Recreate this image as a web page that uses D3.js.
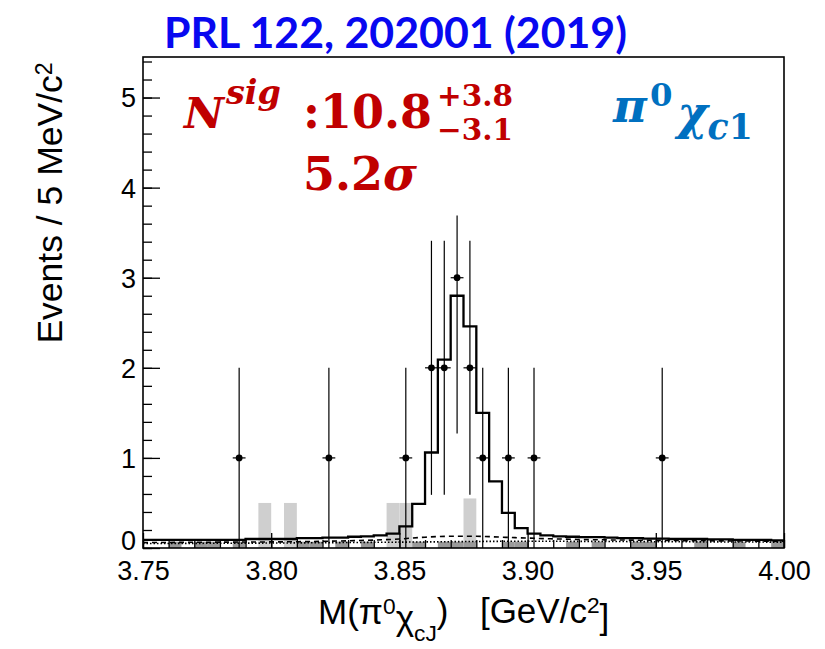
<!DOCTYPE html>
<html><head><meta charset="utf-8">
<script src="https://cdn.jsdelivr.net/npm/d3@7"></script>
<style>body{margin:0;background:#fff;} svg{display:block;}</style>
</head><body>
<svg id="chart" width="825" height="649"></svg>
<script>
// ---------------- DATA ----------------
const xDomain = [3.75, 4.00];
const yDomain = [0, 5.45];
const binWidth = 0.005;
const xTicks = [3.75, 3.80, 3.85, 3.90, 3.95, 4.00];
const xTickLabels = ["3.75", "3.80", "3.85", "3.90", "3.95", "4.00"];
const yTicks = [0, 1, 2, 3, 4, 5];
const yTickLabels = ["0", "1", "2", "3", "4", "5"];

// data points (bin centres, counts, errors)
const dataMass  = [3.7875, 3.8225, 3.8525, 3.8625, 3.8675, 3.8725, 3.8775, 3.8825, 3.8925, 3.9025, 3.9525];
const dataCount = [1, 1, 1, 2, 2, 3, 2, 1, 1, 1, 1];
const dataErrLo = [1, 1, 1, 1.41, 1.41, 1.73, 1.41, 1, 1, 1, 1];
const dataErrHi = [1, 1, 1, 1.41, 1.41, 0.69, 1.41, 1, 1, 1, 1];

// total fit (50 bins of 5 MeV starting at 3.75)
const fitTotal = [0.09, 0.09, 0.09, 0.09, 0.09, 0.09, 0.09, 0.09, 0.10, 0.10,
                  0.10, 0.10, 0.11, 0.11, 0.115, 0.115, 0.125, 0.13, 0.14, 0.16,
                  0.24, 0.49, 1.06, 2.09, 2.80, 2.46, 1.50, 0.74, 0.39, 0.22,
                  0.16, 0.14, 0.13, 0.125, 0.12, 0.12, 0.115, 0.11, 0.11, 0.105,
                  0.105, 0.10, 0.10, 0.10, 0.095, 0.095, 0.09, 0.09, 0.09, 0.085];

// sideband (light grey) histogram
const sidebandLow = [3.795, 3.805, 3.845, 3.850, 3.875];
const sidebandVal = [0.50, 0.50, 0.50, 0.50, 0.55];

// other background (dark grey) histogram
const bkgLow = [3.760, 3.770, 3.775, 3.785, 3.810, 3.815, 3.825, 3.835, 3.855, 3.865, 3.870,
                3.875, 3.890, 3.895, 3.915, 3.925, 3.940, 3.945, 3.965, 3.980, 3.995];
const bkgVal = [0.07, 0.07, 0.07, 0.07, 0.07, 0.07, 0.07, 0.07, 0.07, 0.07, 0.07,
                0.07, 0.07, 0.07, 0.07, 0.07, 0.07, 0.07, 0.07, 0.07, 0.07];

// dashed and dotted background curves
const dashX = [3.75, 3.78, 3.81, 3.83, 3.85, 3.86, 3.87, 3.88, 3.89, 3.90, 3.92, 3.95, 4.00];
const dashY = [0.06, 0.065, 0.07, 0.08, 0.10, 0.12, 0.13, 0.13, 0.12, 0.11, 0.095, 0.085, 0.075];
const dotX  = [3.75, 3.80, 3.85, 3.90, 3.95, 4.00];
const dotY  = [0.05, 0.055, 0.065, 0.075, 0.07, 0.065];

// ---------------- LAYOUT ----------------
const svg = d3.select("#chart");
const L = 143, R = 784, T = 57, B = 548;
const x = d3.scaleLinear().domain(xDomain).range([L, R]);
const y = d3.scaleLinear().domain(yDomain).range([B, T]);

svg.append("rect").attr("width", 825).attr("height", 649).attr("fill", "#fff");

const clip = svg.append("clipPath").attr("id", "pc");
clip.append("rect").attr("x", L).attr("y", T).attr("width", R - L).attr("height", B - T);
const plot = svg.append("g").attr("clip-path", "url(#pc)");

// light grey sideband
plot.selectAll("rect.sb").data(sidebandLow).join("rect").attr("class", "sb")
  .attr("x", d => x(d)).attr("width", d => x(d + binWidth) - x(d))
  .attr("y", (d, i) => y(sidebandVal[i])).attr("height", (d, i) => y(0) - y(sidebandVal[i]))
  .attr("fill", "#cfcfcf");

// dark grey background
plot.selectAll("rect.bk").data(bkgLow).join("rect").attr("class", "bk")
  .attr("x", d => x(d)).attr("width", d => x(d + binWidth) - x(d))
  .attr("y", (d, i) => y(bkgVal[i])).attr("height", (d, i) => y(0) - y(bkgVal[i]))
  .attr("fill", "#9a9a9a");

// dotted / dashed curves
const line = d3.line().x(d => x(d[0])).y(d => y(d[1])).curve(d3.curveMonotoneX);
plot.append("path").attr("d", line(dotX.map((v, i) => [v, dotY[i]])))
  .attr("fill", "none").attr("stroke", "#000").attr("stroke-width", 1.6).attr("stroke-dasharray", "1.5,2");
plot.append("path").attr("d", line(dashX.map((v, i) => [v, dashY[i]])))
  .attr("fill", "none").attr("stroke", "#000").attr("stroke-width", 1.6).attr("stroke-dasharray", "5,4");

// total fit as step histogram
const stepPts = [];
fitTotal.forEach((v, i) => {
  const lo = xDomain[0] + i * binWidth;
  stepPts.push([lo, v]); stepPts.push([lo + binWidth, v]);
});
plot.append("path")
  .attr("d", d3.line().x(d => x(d[0])).y(d => y(d[1]))(stepPts))
  .attr("fill", "none").attr("stroke", "#000").attr("stroke-width", 2.3).attr("stroke-linejoin", "miter");

// data points
const pts = plot.selectAll("g.pt").data(dataMass).join("g").attr("class", "pt");
pts.append("line")
  .attr("x1", d => x(d)).attr("x2", d => x(d))
  .attr("y1", (d, i) => y(dataCount[i] - dataErrLo[i])).attr("y2", (d, i) => y(dataCount[i] + dataErrHi[i]))
  .attr("stroke", "#000").attr("stroke-width", 1.2);
pts.append("line")
  .attr("x1", d => x(d - binWidth / 2)).attr("x2", d => x(d + binWidth / 2))
  .attr("y1", (d, i) => y(dataCount[i])).attr("y2", (d, i) => y(dataCount[i]))
  .attr("stroke", "#000").attr("stroke-width", 1.2);
pts.append("circle")
  .attr("cx", d => x(d)).attr("cy", (d, i) => y(dataCount[i])).attr("r", 3.4).attr("fill", "#000");

// ---------------- AXES (ROOT style, ticks inside) ----------------
const tickFont = "'Liberation Sans', Arial, Helvetica, sans-serif";
const yMinor = d3.range(0, 28).map(i => i * 0.2).filter(v => v <= yDomain[1]);
const xMinor = d3.range(0, 26).map(i => 3.75 + i * 0.01);

const gyMinor = svg.append("g").attr("transform", `translate(${L},0)`)
  .call(d3.axisLeft(y).tickValues(yMinor).tickSize(-9).tickFormat(""));
const gy = svg.append("g").attr("transform", `translate(${L},0)`)
  .call(d3.axisLeft(y).tickValues(yTicks).tickSize(-17).tickPadding(7)
        .tickFormat((d, i) => yTickLabels[i]));
const gxMinor = svg.append("g").attr("transform", `translate(0,${B})`)
  .call(d3.axisBottom(x).tickValues(xMinor).tickSize(-8).tickFormat(""));
const gx = svg.append("g").attr("transform", `translate(0,${B})`)
  .call(d3.axisBottom(x).tickValues(xTicks).tickSize(-15).tickPadding(13)
        .tickFormat((d, i) => xTickLabels[i]));

[gy, gx, gyMinor, gxMinor].forEach(g => {
  g.attr("font-size", 27).attr("font-family", tickFont);
  g.select(".domain").remove();
  g.selectAll(".tick line").attr("stroke", "#000").attr("stroke-width", 1.3);
  g.selectAll("text").attr("font-family", tickFont).attr("font-size", 27).attr("fill", "#000");
});
gy.selectAll(".tick text").attr("dy", (d) => d === 0 ? "0.05em" : "0.35em");
gx.selectAll(".tick text").attr("dy", "0.71em");

// frame
svg.append("rect").attr("x", L).attr("y", T).attr("width", R - L).attr("height", B - T)
  .attr("fill", "none").attr("stroke", "#000").attr("stroke-width", 1.6);

// ---------------- TEXT ----------------
function fitWidth(sel, target) {
  const w = sel.node().getComputedTextLength();
  const fs = parseFloat(sel.attr("font-size"));
  sel.attr("font-size", fs * target / w);
  return sel;
}

// title
svg.append("text").attr("x", 164).attr("y", 48)
  .attr("font-family", "Lato, 'Open Sans', sans-serif").attr("font-weight", "bold")
  .attr("font-size", 42).attr("fill", "#0808f0")
  .attr("textLength", 463).attr("lengthAdjust", "spacingAndGlyphs")
  .text("PRL 122, 202001 (2019)");

// y axis title
const ylab = svg.append("text")
  .attr("transform", "translate(62,203) rotate(-90)")
  .attr("text-anchor", "middle")
  .attr("font-family", tickFont).attr("font-size", 35.5).attr("fill", "#000");
ylab.append("tspan").text("Events / 5 MeV/c");
ylab.append("tspan").attr("dy", "-0.45em").attr("font-size", "0.65em").text("2");

// x axis title
const xlab = svg.append("text").attr("x", 318).attr("y", 624)
  .attr("font-family", tickFont).attr("font-size", 35).attr("fill", "#000");
xlab.append("tspan").text("M(π");
xlab.append("tspan").attr("dy", "-0.45em").attr("font-size", "0.65em").text("0");
xlab.append("tspan").attr("dy", "0.45em").text("χ");
xlab.append("tspan").attr("dy", "0.5em").attr("font-size", "0.65em").text("cJ");
xlab.append("tspan").attr("dy", "-0.5em").text(")");
xlab.append("tspan").attr("dx", "0.9em").text("[GeV/c");
xlab.append("tspan").attr("dy", "-0.45em").attr("font-size", "0.65em").text("2");
xlab.append("tspan").attr("dy", "0.45em").text("]");

// red annotation
const red = "#c00000";
const serif = "'DejaVu Serif', 'Liberation Serif', serif";
const tN = svg.append("text").attr("x", 184).attr("y", 128).attr("font-family", serif)
  .attr("font-weight", "bold").attr("font-style", "italic").attr("font-size", 50).attr("fill", red).text("N");
fitWidth(tN, 40);
const tSig = svg.append("text").attr("x", 226).attr("y", 104).attr("font-family", serif)
  .attr("font-weight", "bold").attr("font-style", "italic").attr("font-size", 30).attr("fill", red).text("sig");
fitWidth(tSig, 55);
const tVal = svg.append("text").attr("x", 303).attr("y", 128).attr("font-family", serif)
  .attr("font-weight", "bold").attr("font-size", 44).attr("fill", red).text(":10.8");
fitWidth(tVal, 129);
const tUp = svg.append("text").attr("x", 437).attr("y", 106).attr("font-family", serif)
  .attr("font-weight", "bold").attr("font-size", 30).attr("fill", red).text("+3.8");
fitWidth(tUp, 76);
const tDn = svg.append("text").attr("x", 437).attr("y", 140).attr("font-family", serif)
  .attr("font-weight", "bold").attr("font-size", 30).attr("fill", red).text("−3.1");
fitWidth(tDn, 76);
const tSigma = svg.append("text").attr("x", 303).attr("y", 190).attr("font-family", serif)
  .attr("font-weight", "bold").attr("font-size", 44).attr("fill", red);
tSigma.append("tspan").text("5.2");
tSigma.append("tspan").attr("font-style", "italic").text("σ");
fitWidth(tSigma, 114);

// blue annotation
const blue = "#0070c0";
const tChan = svg.append("text").attr("x", 613).attr("y", 122).attr("font-family", serif)
  .attr("font-weight", "bold").attr("font-size", 38).attr("fill", blue);
tChan.append("tspan").attr("font-style", "italic").text("π");
tChan.append("tspan").attr("dy", "-0.5em").attr("dx", "0.1em").attr("font-size", "0.7em").text("0");
tChan.append("tspan").attr("dy", "0.5em").attr("dx", "0.1em").attr("font-style", "italic").text("χ");
tChan.append("tspan").attr("dy", "0.3em").attr("font-size", "0.75em").attr("font-style", "italic").text("c");
tChan.append("tspan").attr("font-size", "0.75em").text("1");
fitWidth(tChan, 132);
</script>
</body></html>
